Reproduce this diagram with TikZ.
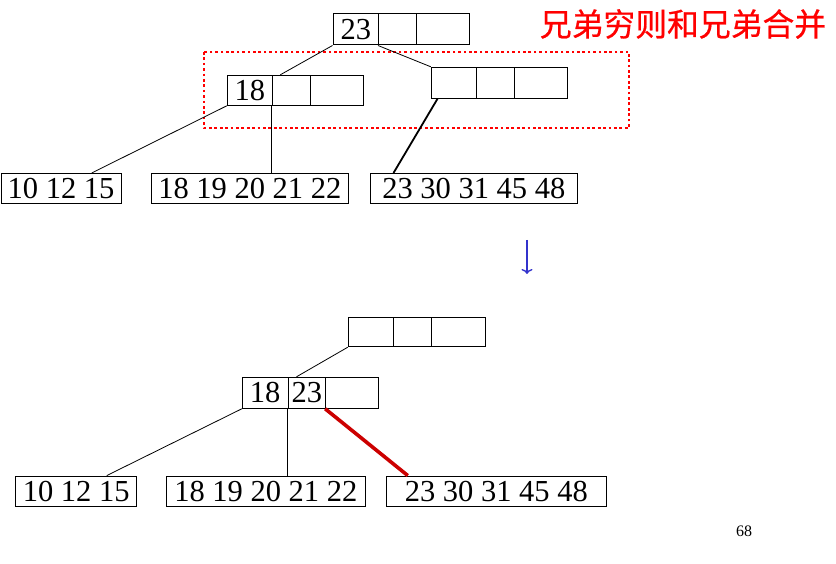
\documentclass[tikz,border=0pt]{standalone}
\usepackage{fontspec}
\setmainfont{Liberation Serif}
\newfontfamily\cjkfont[FakeBold=0.6]{Noto Sans CJK SC}
\usetikzlibrary{arrows.meta}
\definecolor{linkred}{RGB}{204,0,0}
\definecolor{arrowblue}{RGB}{51,51,204}
\begin{document}
\begin{tikzpicture}[x=1pt,y=-1pt,
  cell/.style={draw, line width=1pt, inner sep=0pt, font=\fontsize{30.5}{36}\selectfont},
  leaf/.style={draw, line width=1pt, inner sep=0pt, minimum height=30.5, font=\fontsize{30.5}{36}\selectfont},
  edge/.style={line width=0.8pt},
  thickedge/.style={line width=1.8pt},
  rededge/.style={line width=3.6pt, draw=linkred},
  dotbox/.style={draw=red, line width=2.5pt, dash pattern=on 2.7pt off 2.7pt},
  note/.style={text=red, font=\cjkfont\fontsize{31.8}{34}\selectfont, inner sep=0pt},
  arrowline/.style={draw=arrowblue, line width=1.4pt, -{To[length=5pt,width=11pt]}}
]
\useasboundingbox (0,0) rectangle (836,564);

% ---------- top tree ----------
\node[cell, minimum width=45.5, minimum height=31] (r1) at (355.75,29.5) {23};
\node[cell, minimum width=38,   minimum height=31] (r2) at (397.5,29.5) {};
\node[cell, minimum width=52.5, minimum height=31] (r3) at (442.75,29.5) {};

\node[cell, minimum width=45, minimum height=30] (l1) at (249.8,90.3) {18};
\node[cell, minimum width=38, minimum height=30] (l2) at (291.3,90.3) {};
\node[cell, minimum width=53, minimum height=30] (l3) at (336.8,90.3) {};

\node[cell, minimum width=45, minimum height=31] (q1) at (453.8,82.8) {};
\node[cell, minimum width=38, minimum height=31] (q2) at (495.3,82.8) {};
\node[cell, minimum width=53, minimum height=31] (q3) at (540.8,82.8) {};

\node[leaf, minimum width=120]   (a1) at (61,188.75) {10 12 15};
\node[leaf, minimum width=196.3] (a2) at (249.85,188.75) {18 19 20 21 22};
\node[leaf, minimum width=206.5] (a3) at (473.75,188.75) {23 30 31 45 48};

\draw[dotbox] (204,52) rectangle (629,128);

\draw[edge] (r1.south west) -- ([xshift=8.5pt]l2.north west);
\draw[edge] (r2.south west) -- (q1.north west);
\draw[edge] (l1.south west) -- ([xshift=30.7pt]a1.north);
\draw[edge] (l2.south west) -- (l2.south west |- a2.north);
\draw[thickedge] ([xshift=6.7pt]q1.south west) -- ([xshift=23.5pt]a3.north west);

\node[note] (title) at (683,24) {兄弟穷则和兄弟合并};

% ---------- arrow ----------
\coordinate (arS) at (527,240);
\coordinate (arE) at (527,274);
\draw[arrowline] (arS) -- (arE);

% ---------- bottom tree ----------
\node[cell, minimum width=45,   minimum height=29.4] (t1) at (370.8,332) {};
\node[cell, minimum width=38.4, minimum height=29.4] (t2) at (412.5,332) {};
\node[cell, minimum width=53.3, minimum height=29.4] (t3) at (458.35,332) {};

\node[cell, minimum width=45.7, minimum height=31] (m1) at (265.15,392.8) {18};
\node[cell, minimum width=37.7, minimum height=31] (m2) at (306.85,392.8) {23};
\node[cell, minimum width=52.6, minimum height=31] (m3) at (352,392.8) {};

\node[leaf, minimum width=121]   (b1) at (76.2,491.35) {10 12 15};
\node[leaf, minimum width=198.3] (b2) at (265.85,491.35) {18 19 20 21 22};
\node[leaf, minimum width=219.3] (b3) at (496.35,491.35) {23 30 31 45 48};

\draw[edge] (t1.south west) -- ([xshift=9pt]m2.north west);
\draw[edge] (m1.south west) -- ([xshift=30.5pt]b1.north);
\draw[edge] (m2.south west) -- (m2.south west |- b2.north);
\draw[rededge] (m3.south west) -- ([xshift=21.6pt]b3.north west);

\node[font=\fontsize{16}{18}\selectfont, inner sep=0pt] (pg) at (744,531) {68};
\end{tikzpicture}
\end{document}
